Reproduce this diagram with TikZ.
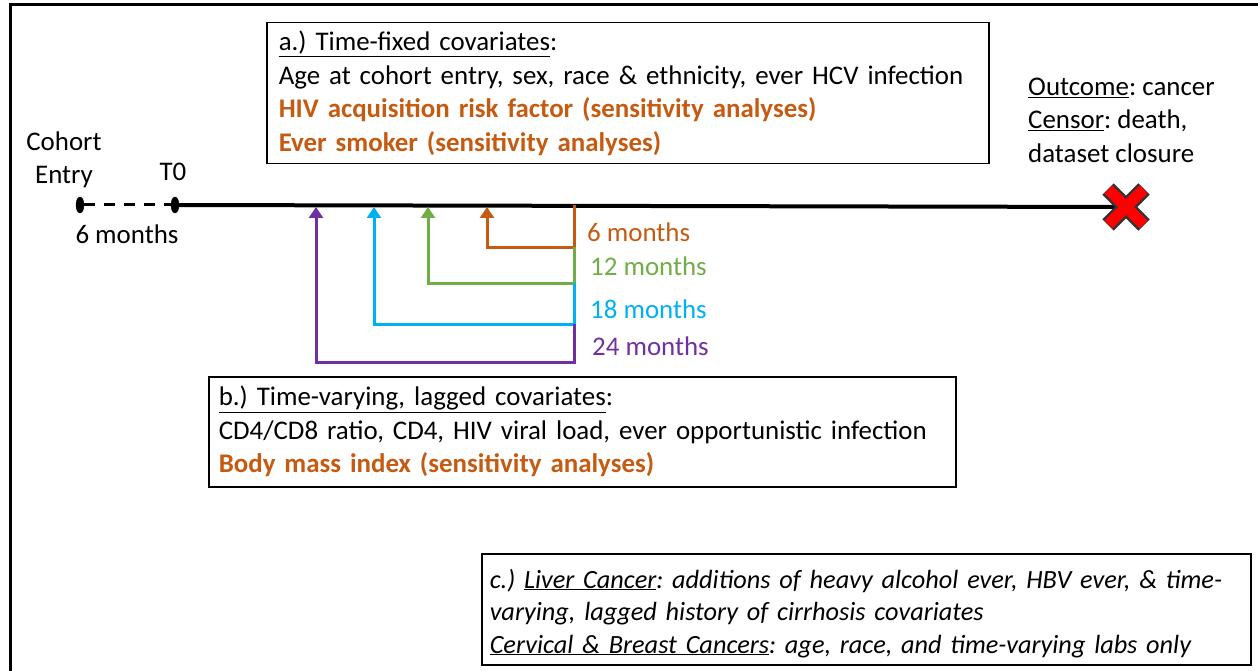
\documentclass[tikz,border=0pt]{standalone}
\usepackage{fontspec}
\setmainfont{Carlito}
\usepackage{tikz}
\usetikzlibrary{arrows.meta}
\usetikzlibrary{shapes.geometric}
\definecolor{sensorange}{HTML}{C55A11}
\definecolor{laggreen}{HTML}{70AD47}
\definecolor{lagblue}{HTML}{00B0F0}
\definecolor{lagpurple}{HTML}{7030A0}
\newcommand{\diagfont}{\fontsize{26.9}{33.5}\selectfont\frenchspacing}
\newcommand{\notefont}{\fontsize{26.3}{32.5}\selectfont\itshape\frenchspacing}
\tikzstyle{covbox}=[draw, line width=1.5pt, align=left, anchor=north west, inner ysep=0, font=\diagfont]
\tikzstyle{timedot}=[ellipse, fill, draw, inner sep=0, minimum width=8pt, minimum height=16pt]
\tikzstyle{lagarrow}=[line width=3pt, -{Triangle[width=14pt, length=11pt]}]
\tikzstyle{plaintext}=[inner sep=0, font=\diagfont]

\begin{document}
\begin{tikzpicture}[x=1pt, y=-1pt]
        \useasboundingbox (0, 0) rectangle (1258, 671);
        \draw[line width=3pt] (10, 671) -- (10, 5) -- (1258, 5);
        % covariate boxes
        \node[covbox, inner xsep=12pt, text width=698pt, minimum height=141pt] (fixed) at (266, 22)
            {\underline{a.) Time-fixed covariates}:\\
             Age at cohort entry, sex, race \& ethnicity, ever HCV infection\\
             \textcolor{sensorange}{\bfseries HIV acquisition risk factor (sensitivity analyses)}\\
             \textcolor{sensorange}{\bfseries Ever smoker (sensitivity analyses)}};
        \node[covbox, inner xsep=10pt, text width=727pt, minimum height=110pt] (varying) at (208, 376)
            {\underline{b.) Time-varying, lagged covariates}:\\
             CD4/CD8 ratio, CD4, HIV viral load, ever opportunistic infection\\
             \textcolor{sensorange}{\bfseries Body mass index (sensitivity analyses)}};
        \node[covbox, inner xsep=8pt, text width=753pt, minimum height=111pt, font=\notefont] (cancers) at (481, 553)
            {\rule{0pt}{27pt}c.) \underline{Liver Cancer}: additions of heavy alcohol ever, HBV ever, \& time-\\
             varying, lagged history of cirrhosis covariates\\
             \underline{Cervical \& Breast Cancers}: age, race, and time-varying labs only};
        % timeline
        \node[timedot] (entry) at (80, 205) {};
        \node[timedot] (tzero) at (175, 205) {};
        \coordinate (censor) at (1126, 207);
        \draw[line width=3pt, dash pattern=on 11pt off 9pt] (entry) -- (tzero);
        \draw[line width=4pt] (tzero) -- (censor);
        \draw[line width=16pt, black!80] ([shift={(-18,-18)}]censor) -- ([shift={(18,18)}]censor)
                                         ([shift={(-18,18)}]censor) -- ([shift={(18,-18)}]censor);
        \draw[line width=11pt, red] ([shift={(-17.5,-17.5)}]censor) -- ([shift={(17.5,17.5)}]censor)
                                    ([shift={(-17.5,17.5)}]censor) -- ([shift={(17.5,-17.5)}]censor);
        \node[plaintext, align=center] (entrylab) at (64, 160) {Cohort\\Entry};
        \node[plaintext] (tzerolab) at (173, 172) {T0};
        \node[plaintext] (runin) at (127, 234) {6 months};
        \node[plaintext, anchor=west, align=left] (outcome) at (1028, 120)
            {\underline{Outcome}: cancer\\ \underline{Censor}: death,\\ dataset closure};
        % lags
        \coordinate (s0) at (574, 205);
        \coordinate (s6) at (574, 247);
        \coordinate (s12) at (574, 283);
        \coordinate (s18) at (574, 324);
        \coordinate (s24) at (574, 362);
        \coordinate (a6) at (487, 207);
        \coordinate (a12) at (428, 207);
        \coordinate (a18) at (374, 207);
        \coordinate (a24) at (316, 207);
        \draw[lagarrow, sensorange] (s0) -- (s6) -| (a6);
        \draw[lagarrow, laggreen] (s6) -- (s12) -| (a12);
        \draw[lagarrow, lagblue] (s12) -- (s18) -| (a18);
        \draw[lagarrow, lagpurple] (s18) -- (s24) -| (a24);
        \node[plaintext, anchor=west, text=sensorange] (lag6) at (587, 232) {6 months};
        \node[plaintext, anchor=west, text=laggreen] (lag12) at (590, 266) {12 months};
        \node[plaintext, anchor=west, text=lagblue] (lag18) at (590, 309) {18 months};
        \node[plaintext, anchor=west, text=lagpurple] (lag24) at (592, 346) {24 months};
    \end{tikzpicture}
\end{document}
